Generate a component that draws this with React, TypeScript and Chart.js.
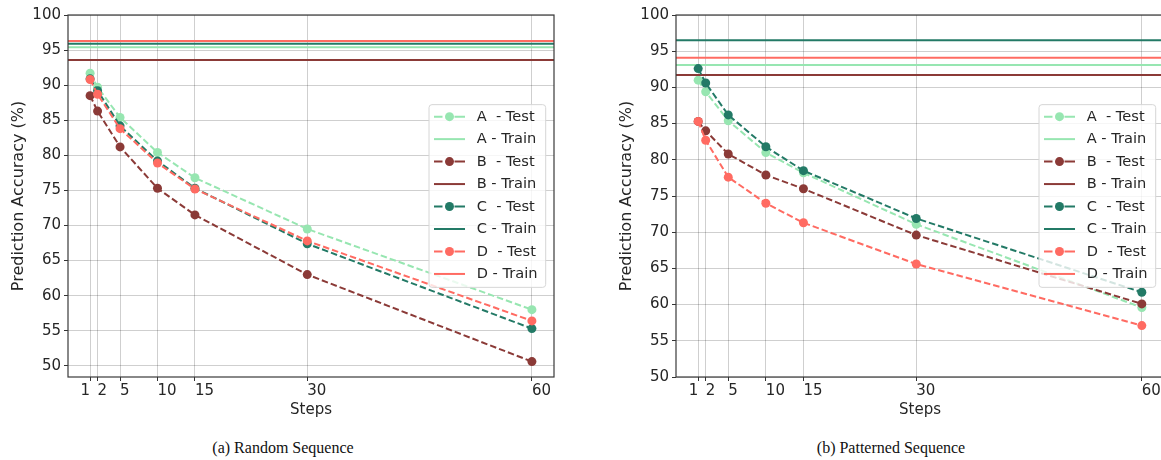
import React, { useEffect, useRef } from 'react';
import { Chart, registerables } from 'chart.js';

Chart.register(...registerables);

const FONT = "'DejaVu Sans', 'Noto Sans', sans-serif";
const TEXT_COLOR = '#262626';

// ---- axes ----
const STEPS = [1, 2, 5, 10, 15, 30, 60];
const STEP_LABELS = ['1', '2', '5', '10', '15', '30', '60'];
const X_MIN = -1.95;
const X_MAX = 62.95;
const Y_MAX = 100;
const Y_STEP = 5;
const RANDOM_Y_MIN = 48.4;
const PATTERNED_Y_MIN = 50;

// ---- series ----
const MODELS = ['A', 'B', 'C', 'D'];

// (a) Random Sequence
const RANDOM_A_TEST = [91.7, 89.7, 85.4, 80.4, 76.8, 69.5, 58.0];
const RANDOM_B_TEST = [88.5, 86.3, 81.2, 75.3, 71.5, 63.0, 50.6];
const RANDOM_C_TEST = [90.9, 89.2, 84.2, 79.2, 75.3, 67.4, 55.3];
const RANDOM_D_TEST = [90.8, 88.7, 83.8, 78.9, 75.2, 67.8, 56.4];
const RANDOM_TRAIN = [95.4, 93.6, 95.9, 96.3];

// (b) Patterned Sequence
const PATTERNED_A_TEST = [91.0, 89.4, 85.4, 81.0, 78.2, 71.1, 59.6];
const PATTERNED_B_TEST = [85.3, 84.0, 80.8, 77.9, 76.0, 69.6, 60.1];
const PATTERNED_C_TEST = [92.6, 90.6, 86.2, 81.8, 78.5, 71.9, 61.7];
const PATTERNED_D_TEST = [85.3, 82.7, 77.6, 74.0, 71.3, 65.6, 57.1];
const PATTERNED_TRAIN = [93.1, 91.7, 96.5, 94.1];

const COLORS = ['#97e6b1', '#8b3a37', '#237a66', '#ff6b62'];

function buildDatasets(tests: number[][], train: number[]) {
  const ds: any[] = [];
  MODELS.forEach((m, i) => {
    ds.push({
      label: `${m}  - Test`,
      kind: 'test',
      data: STEPS.map((s, j) => ({ x: s, y: tests[i][j] })),
      borderColor: COLORS[i],
      backgroundColor: COLORS[i],
      pointBackgroundColor: COLORS[i],
      borderWidth: 2,
      borderDash: [6.5, 3],
      pointRadius: 4.5,
      pointHoverRadius: 4.5,
      pointBorderWidth: 0,
      tension: 0,
      fill: false,
    });
    ds.push({
      label: `${m} - Train`,
      kind: 'train',
      data: [
        { x: X_MIN, y: train[i] },
        { x: X_MAX, y: train[i] },
      ],
      borderColor: COLORS[i],
      backgroundColor: COLORS[i],
      borderWidth: 2,
      pointRadius: 0,
      pointHoverRadius: 0,
      tension: 0,
      fill: false,
    });
  });
  ds.forEach((d, k) => (d.order = ds.length - 1 - k));
  return ds;
}

const framePlugin = {
  id: 'frame',
  afterDatasetsDraw(chart: any) {
    const { ctx, chartArea } = chart;
    const { left, top, right, bottom } = chartArea;
    ctx.save();
    ctx.strokeStyle = '#3a3a3a';
    ctx.lineWidth = 1.2;
    ctx.strokeRect(left, top, right - left, bottom - top);
    ctx.restore();
  },
};

const xLabelPlugin = {
  id: 'xLabels',
  afterDraw(chart: any) {
    const { ctx, chartArea } = chart;
    const xs = chart.scales.x;
    ctx.save();
    ctx.font = `15px ${FONT}`;
    ctx.fillStyle = TEXT_COLOR;
    ctx.textBaseline = 'middle';
    STEPS.forEach((v, i) => {
      const px = xs.getPixelForValue(v);
      ctx.textAlign = i === 0 ? 'right' : 'left';
      ctx.fillText(STEP_LABELS[i], px, chartArea.bottom + 14);
    });
    ctx.restore();
  },
};

const legendPlugin = {
  id: 'insideLegend',
  afterDraw(chart: any) {
    const { ctx, chartArea } = chart;
    const items = chart.data.datasets;
    const rowH = 22.47;
    const boxW = 116.7;
    const padTop = 12;
    const padBottom = 13.4;
    const boxH = padTop + (items.length - 1) * rowH + padBottom;
    const x0 = chartArea.right - 8.3 - boxW;
    const y0 = (chartArea.top + chartArea.bottom) / 2 - boxH / 2;
    ctx.save();
    ctx.beginPath();
    if (ctx.roundRect) ctx.roundRect(x0, y0, boxW, boxH, 3);
    else ctx.rect(x0, y0, boxW, boxH);
    ctx.fillStyle = 'rgba(255,255,255,0.8)';
    ctx.fill();
    ctx.strokeStyle = '#d6d6d6';
    ctx.lineWidth = 1;
    ctx.stroke();
    items.forEach((d: any, i: number) => {
      const cy = y0 + padTop + i * rowH;
      ctx.strokeStyle = d.borderColor;
      ctx.lineWidth = 2;
      ctx.setLineDash([]);
      if (d.kind === 'test') {
        ctx.beginPath();
        ctx.moveTo(x0 + 5, cy);
        ctx.lineTo(x0 + 13.5, cy);
        ctx.moveTo(x0 + 25.5, cy);
        ctx.lineTo(x0 + 36, cy);
        ctx.stroke();
        ctx.beginPath();
        ctx.arc(x0 + 20.5, cy, 4.5, 0, Math.PI * 2);
        ctx.fillStyle = d.borderColor;
        ctx.fill();
      } else {
        ctx.beginPath();
        ctx.moveTo(x0 + 5, cy);
        ctx.lineTo(x0 + 36, cy);
        ctx.stroke();
      }
      ctx.font = `14.6px ${FONT}`;
      ctx.fillStyle = TEXT_COLOR;
      ctx.textAlign = 'left';
      ctx.textBaseline = 'middle';
      ctx.fillText(d.label, x0 + 47.7, cy + 0.5);
    });
    ctx.restore();
  },
};

const CANVAS_W = 580;
const CANVAS_H = 420;
const Y_AXIS_W = 68;
const PLOT_TOP = 15;
const PLOT_BOTTOM = 377;

function Panel(props: {
  tests: number[][];
  train: number[];
  yMin: number;
  canvasLeft: number;
  padRight: number;
}) {
  const ref = useRef<HTMLCanvasElement | null>(null);
  useEffect(() => {
    if (!ref.current) return;
    const grid = {
      color: 'rgba(0,0,0,0.19)',
      lineWidth: 1,
      tickLength: 4,
      tickColor: '#333333',
      tickWidth: 1,
    };
    const chart = new Chart(ref.current, {
      type: 'line',
      data: { datasets: buildDatasets(props.tests, props.train) },
      options: {
        animation: false,
        responsive: false,
        devicePixelRatio: 1,
        events: [],
        layout: { padding: { top: PLOT_TOP, right: props.padRight, left: 0, bottom: 0 } },
        plugins: {
          legend: { display: false },
          tooltip: { enabled: false },
        },
        scales: {
          x: {
            type: 'linear',
            min: X_MIN,
            max: X_MAX,
            afterBuildTicks: (s: any) => {
              s.ticks = STEPS.map((v) => ({ value: v }));
            },
            afterFit: (s: any) => {
              s.height = CANVAS_H - PLOT_BOTTOM;
            },
            grid,
            border: { display: false },
            ticks: { display: false },
            title: {
              display: true,
              text: 'Steps',
              color: TEXT_COLOR,
              font: { family: FONT, size: 15 },
              padding: { top: 0, bottom: 1 },
            },
          },
          y: {
            type: 'linear',
            min: props.yMin,
            max: Y_MAX,
            afterFit: (s: any) => {
              s.width = Y_AXIS_W;
            },
            grid,
            border: { display: false },
            ticks: {
              stepSize: Y_STEP,
              includeBounds: false,
              color: TEXT_COLOR,
              font: { family: FONT, size: 15 },
              padding: 3,
            },
            title: {
              display: true,
              text: 'Prediction Accuracy (%)',
              color: TEXT_COLOR,
              font: { family: FONT, size: 16 },
              padding: { top: 9, bottom: 0 },
            },
          },
        },
      } as any,
      plugins: [framePlugin, xLabelPlugin, legendPlugin],
    });
    return () => chart.destroy();
  }, []);
  return (
    <canvas
      ref={ref}
      width={CANVAS_W}
      height={CANVAS_H}
      style={{
        position: 'absolute',
        left: props.canvasLeft,
        top: 0,
        width: CANVAS_W,
        height: CANVAS_H,
      }}
    />
  );
}

const captionStyle = (center: number): React.CSSProperties => ({
  position: 'absolute',
  left: center - 200,
  width: 400,
  top: 439,
  textAlign: 'center',
  fontFamily: "'Liberation Serif', 'Times New Roman', serif",
  fontSize: 16,
  lineHeight: '18px',
  color: '#111',
});

export default function App() {
  return (
    <div
      style={{
        position: 'absolute',
        left: 0,
        top: 0,
        width: 1161,
        height: 460,
        overflow: 'hidden',
        background: '#ffffff',
      }}
    >
      <Panel
        tests={[RANDOM_A_TEST, RANDOM_B_TEST, RANDOM_C_TEST, RANDOM_D_TEST]}
        train={RANDOM_TRAIN}
        yMin={RANDOM_Y_MIN}
        canvasLeft={0}
        padRight={26}
      />
      <Panel
        tests={[PATTERNED_A_TEST, PATTERNED_B_TEST, PATTERNED_C_TEST, PATTERNED_D_TEST]}
        train={PATTERNED_TRAIN}
        yMin={PATTERNED_Y_MIN}
        canvasLeft={608}
        padRight={24}
      />
      <div style={captionStyle(283)}>(a) Random Sequence</div>
      <div style={captionStyle(891)}>(b) Patterned Sequence</div>
    </div>
  );
}
